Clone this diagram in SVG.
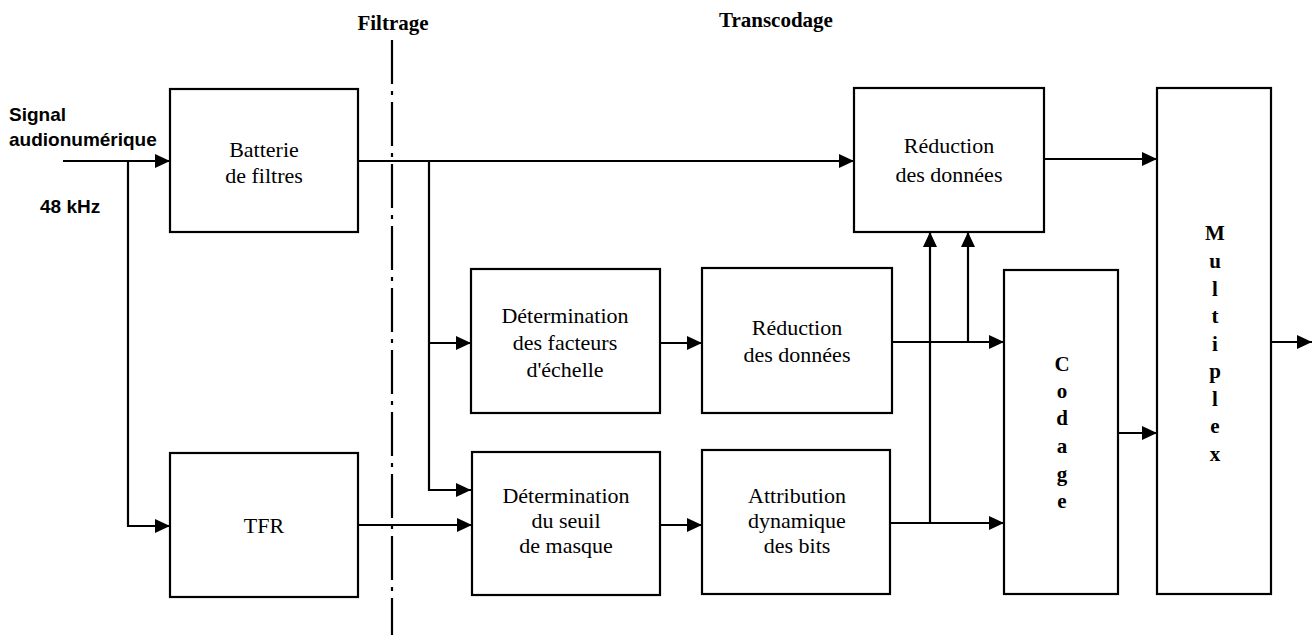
<svg xmlns="http://www.w3.org/2000/svg" width="1314" height="635" viewBox="0 0 1314 635">
<style>
.box{fill:#fff;stroke:#000;stroke-width:2.2}
.t{font-family:"Liberation Serif",serif;font-size:22px;text-anchor:middle;fill:#000}
.b{font-family:"Liberation Serif",serif;font-size:21px;font-weight:bold;fill:#000}
.s{font-family:"Liberation Sans",sans-serif;font-size:19px;font-weight:bold;fill:#000}
.v{font-family:"Liberation Serif",serif;font-size:21px;font-weight:bold;text-anchor:middle;fill:#000}
.c{fill:none;stroke:#000;stroke-width:2.2}
</style>
<defs>
<marker id="ah" markerUnits="userSpaceOnUse" markerWidth="16" markerHeight="14" refX="15" refY="7" orient="auto">
<path d="M0,0 L15,7 L0,14 Z" fill="#000"/>
</marker>
</defs>
<line x1="392" y1="40" x2="392" y2="635" stroke="#000" stroke-width="2.2" stroke-dasharray="44 7 4 7"/>
<text class="b" x="393" y="30" text-anchor="middle">Filtrage</text>
<text class="b" x="719" y="27">Transcodage</text>
<text class="s" x="9" y="121">Signal</text>
<text class="s" x="9" y="146">audionumérique</text>
<text class="s" x="40" y="213">48 kHz</text>
<g id="connectors">
<path class="c" d="M63,161 H170" marker-end="url(#ah)"/>
<path class="c" d="M128,161 V526 H170" marker-end="url(#ah)"/>
<path class="c" d="M358,161 H854" marker-end="url(#ah)"/>
<path class="c" d="M429,161 V490 H471" marker-end="url(#ah)"/>
<path class="c" d="M429,343 H471" marker-end="url(#ah)"/>
<path class="c" d="M358,525 H472" marker-end="url(#ah)"/>
<path class="c" d="M660,343 H702" marker-end="url(#ah)"/>
<path class="c" d="M660,525 H702" marker-end="url(#ah)"/>
<path class="c" d="M892,342 H1004" marker-end="url(#ah)"/>
<path class="c" d="M968,342 V232" marker-end="url(#ah)"/>
<path class="c" d="M890,523 H1004" marker-end="url(#ah)"/>
<path class="c" d="M930,523 V232" marker-end="url(#ah)"/>
<path class="c" d="M1044,159 H1157" marker-end="url(#ah)"/>
<path class="c" d="M1118,433 H1157" marker-end="url(#ah)"/>
<path class="c" d="M1271,342 H1312" marker-end="url(#ah)"/>
</g>
<g id="batterie">
<rect class="box" x="170" y="89" width="188" height="143"/>
<text class="t" x="264" y="157">Batterie</text>
<text class="t" x="264" y="183">de filtres</text>
</g>
<g id="tfr">
<rect class="box" x="170" y="453" width="188" height="144"/>
<text class="t" x="264" y="533">TFR</text>
</g>
<g id="facteurs">
<rect class="box" x="471" y="269" width="189" height="144"/>
<text class="t" x="565" y="323">Détermination</text>
<text class="t" x="565" y="350">des facteurs</text>
<text class="t" x="565" y="377">d'échelle</text>
</g>
<g id="seuil">
<rect class="box" x="472" y="452" width="188" height="143"/>
<text class="t" x="566" y="503">Détermination</text>
<text class="t" x="566" y="528">du seuil</text>
<text class="t" x="566" y="553">de masque</text>
</g>
<g id="reduction2">
<rect class="box" x="702" y="268" width="190" height="145"/>
<text class="t" x="797" y="335">Réduction</text>
<text class="t" x="797" y="362">des données</text>
</g>
<g id="attribution">
<rect class="box" x="702" y="450" width="188" height="144"/>
<text class="t" x="797" y="503">Attribution</text>
<text class="t" x="797" y="528">dynamique</text>
<text class="t" x="797" y="553">des bits</text>
</g>
<g id="reduction1">
<rect class="box" x="854" y="88" width="190" height="144"/>
<text class="t" x="949" y="153">Réduction</text>
<text class="t" x="949" y="182">des données</text>
</g>
<g id="codage">
<rect class="box" x="1004" y="270" width="114" height="324"/>
<text class="v" x="1062" y="371">C</text>
<text class="v" x="1062" y="398">o</text>
<text class="v" x="1062" y="425">d</text>
<text class="v" x="1062" y="453">a</text>
<text class="v" x="1062" y="481">g</text>
<text class="v" x="1062" y="508">e</text>
</g>
<g id="multiplex">
<rect class="box" x="1157" y="88" width="114" height="506"/>
<text class="v" x="1215" y="240">M</text>
<text class="v" x="1215" y="268">u</text>
<text class="v" x="1215" y="296">l</text>
<text class="v" x="1215" y="323">t</text>
<text class="v" x="1215" y="351">i</text>
<text class="v" x="1215" y="378">p</text>
<text class="v" x="1215" y="406">l</text>
<text class="v" x="1215" y="433">e</text>
<text class="v" x="1215" y="461">x</text>
</g>
</svg>
